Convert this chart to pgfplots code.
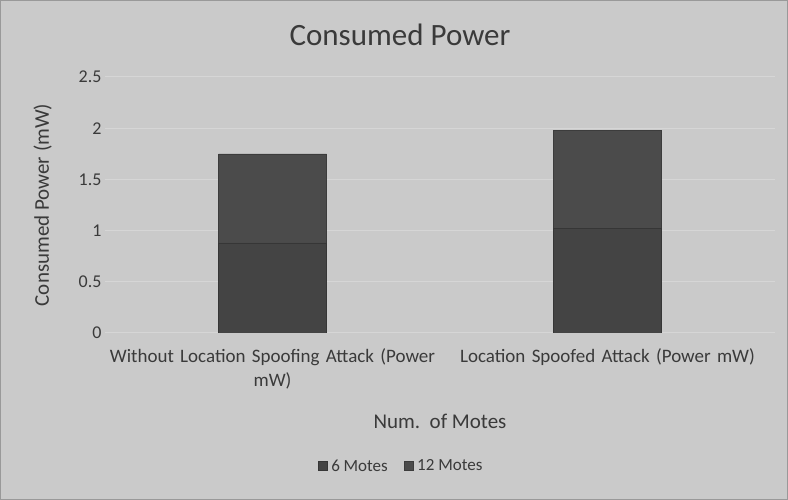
\documentclass[border=0pt]{standalone}
\usepackage{pgfplots}
\pgfplotsset{compat=1.18}
\usepackage{fontspec}
\setmainfont{Carlito}
\definecolor{bg}{HTML}{CACACA}
\definecolor{gridc}{HTML}{D6D6D6}
\definecolor{txt}{HTML}{3A3A3A}
\definecolor{sixm}{HTML}{444444}
\definecolor{twelvem}{HTML}{4B4B4B}
\begin{document}
\begin{tikzpicture}[x=1pt,y=1pt]
\fill[bg] (0,0) rectangle (788,500);
\draw[gray!80] (0.5,0.5) rectangle (787.5,499.5);
\node[font=\fontsize{31}{33}\selectfont, text=txt] at (400,465) {Consumed Power};
\begin{axis}[
  at={(105pt,167pt)}, anchor=south west,
  scale only axis, width=670pt, height=256pt,
  ybar stacked, bar width=108pt,
  xmin=-0.5, xmax=1.5, ymin=0, ymax=2.5,
  xtick={0,1},
  xticklabels={{Without Location Spoofing Attack (Power\\mW)},{Location Spoofed Attack (Power mW)}},
  xticklabel style={align=center, font=\fontsize{19}{24}\selectfont, text=txt, text width=335pt, yshift=-12pt},
  ytick={0,0.5,1,1.5,2,2.5},
  yticklabels={0,0.5,1,1.5,2,2.5},
  yticklabel style={font=\fontsize{18}{20}\selectfont, text=txt},
  major tick length=0pt,
  ymajorgrids, grid style={gridc, line width=1pt},
  axis line style={draw=none},
  xlabel={Num.\ \ of Motes}, xlabel style={font=\fontsize{21}{24}\selectfont, text=txt, yshift=-18pt},
  ylabel={Consumed Power (mW)}, ylabel style={font=\fontsize{21}{24}\selectfont, text=txt, yshift=20pt},
  legend style={at={(0.442,-0.52)}, anchor=center, draw=none, fill=none, legend columns=2,
    font=\fontsize{17}{20}\selectfont, text=txt,
    /tikz/every odd column/.append style={column sep=2pt},
    /tikz/every even column/.append style={column sep=14pt}},
  legend image code/.code={\fill[#1] (0pt,-4.5pt) rectangle (9pt,4.5pt);},
]
\addplot[fill=sixm, draw=sixm!80!black] coordinates {(0,0.88) (1,1.02)};
\addplot[fill=twelvem, draw=twelvem!80!black] coordinates {(0,0.87) (1,0.96)};
\legend{6 Motes, 12 Motes}
\end{axis}
\end{tikzpicture}
\end{document}
